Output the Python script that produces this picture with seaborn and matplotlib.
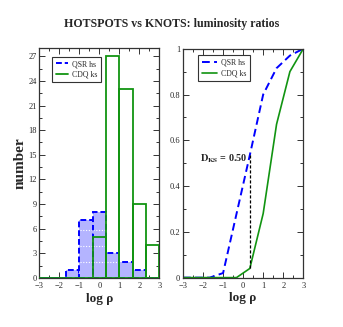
import numpy as np
import pandas as pd
import matplotlib
matplotlib.use("Agg")
import matplotlib.pyplot as plt
from matplotlib.lines import Line2D
from matplotlib.ticker import MultipleLocator, FuncFormatter
import seaborn as sns

# ---------------- data ----------------
bin_edges = [-3.0, -2.333, -1.667, -1.0, -0.333, 0.333, 1.0, 1.667, 2.333, 3.0]
qsr_counts = [0, 0, 1, 7, 8, 3, 2, 1, 0]
cdq_counts = [0, 0, 0, 0, 5, 27, 23, 9, 4]

qsr_cdf_x = [-3.0, -1.667, -1.0, 0.333, 1.0, 1.667, 2.333, 3.0]
qsr_cdf_y = [0.0, 0.0, 0.02, 0.535, 0.80, 0.915, 0.97, 1.0]
cdq_cdf_x = [-3.0, -0.333, 0.333, 1.0, 1.667, 2.333, 3.0]
cdq_cdf_y = [0.0, 0.0, 0.04, 0.28, 0.67, 0.90, 1.0]

ks_x = 0.333
ks_text = "0.50"
series_names = ["QSR hs", "CDQ ks"]
title = "HOTSPOTS vs KNOTS: luminosity ratios"

# ---------------- style ----------------
sns.set_style("ticks")
plt.rcParams["font.family"] = ["Liberation Serif", "DejaVu Serif"]
plt.rcParams["mathtext.fontset"] = "stix"

BLUE = "#0000ff"
BLUE_FILL = "#b4b4ff"
GREEN = "#119411"

fig = plt.figure(figsize=(3.43, 3.27), dpi=100)
axL = fig.add_axes([0.1146, 0.150, 0.350, 0.703])
axR = fig.add_axes([0.5335, 0.151, 0.3507, 0.700])

centers = [(bin_edges[i] + bin_edges[i + 1]) / 2 for i in range(len(bin_edges) - 1)]
df = pd.DataFrame({"c": centers, "qsr": qsr_counts, "cdq": cdq_counts})

# blue filled histogram with dashed edges
sns.histplot(data=df, x="c", weights="qsr", bins=bin_edges, ax=axL,
             color=BLUE_FILL, alpha=1.0, edgecolor=BLUE, linewidth=1.4,
             linestyle=(0, (3, 1.5)), zorder=2)
# white dotted hatch-like lines inside blue bars
for i, h in enumerate(qsr_counts):
    for lev in (1.9, 3.9, 5.9):
        if lev < h - 0.3:
            axL.hlines(lev, bin_edges[i] + 0.03, bin_edges[i + 1] - 0.03,
                       color="white", linestyle=(0, (1, 1.5)), linewidth=0.8, zorder=3)
# green outline histogram
sns.histplot(data=df, x="c", weights="cdq", bins=bin_edges, ax=axL,
             fill=False, color=GREEN, edgecolor=GREEN, linewidth=1.3, zorder=4)

axL.set_xlim(-3, 3)
axL.set_ylim(0, 28)
axL.xaxis.set_major_locator(MultipleLocator(1))
axL.xaxis.set_minor_locator(MultipleLocator(0.5))
axL.yaxis.set_major_locator(MultipleLocator(3))
axL.yaxis.set_minor_locator(MultipleLocator(1.5))
axL.set_ylabel("number", fontsize=11, fontweight="bold", labelpad=1)
axL.set_xlabel("log ρ", fontsize=9.5, fontweight="bold", labelpad=2)

leg_kw = dict(loc="upper left", borderaxespad=0, fontsize=5.6, frameon=True,
              fancybox=False, framealpha=1, edgecolor="#333333",
              handletextpad=0.5, borderpad=0.45, labelspacing=0.35)

handles = [Line2D([], [], color=BLUE, linestyle=(0, (3, 1.5)), linewidth=1.4),
           Line2D([], [], color=GREEN, linewidth=1.3)]
legL = axL.legend(handles, series_names, bbox_to_anchor=(0.106, 0.963),
                  handlelength=1.6, **leg_kw)
legL.get_frame().set_linewidth(0.8)

# right panel: cumulative distributions
sns.lineplot(x=qsr_cdf_x, y=qsr_cdf_y, ax=axR, color=BLUE, linewidth=1.4,
             linestyle=(0, (4, 2.2)), label=series_names[0])
sns.lineplot(x=cdq_cdf_x, y=cdq_cdf_y, ax=axR, color=GREEN, linewidth=1.2,
             label=series_names[1])
y_top = float(np.interp(ks_x, qsr_cdf_x, qsr_cdf_y))
y_bot = float(np.interp(ks_x, cdq_cdf_x, cdq_cdf_y))
axR.vlines(ks_x, y_bot, y_top, color="black", linestyle=(0, (2.5, 1.5)), linewidth=0.9)
axR.text(-2.15, 0.52, r"$\mathbf{D_{KS}}$" + " = " + ks_text, fontsize=7.3,
         fontweight="bold", va="center", ha="left")

axR.set_xlim(-3, 3)
axR.set_ylim(0, 1)
axR.xaxis.set_major_locator(MultipleLocator(1))
axR.xaxis.set_minor_locator(MultipleLocator(0.5))
axR.yaxis.set_major_locator(MultipleLocator(0.2))
axR.yaxis.set_minor_locator(MultipleLocator(0.1))
axR.yaxis.set_major_formatter(FuncFormatter(lambda v, p: f"{v:g}"))
axR.set_xlabel("log ρ", fontsize=9.5, fontweight="bold", labelpad=2)
axR.set_ylabel("")
legR = axR.legend(bbox_to_anchor=(0.125, 0.971), handlelength=2.0, **leg_kw)
legR.get_frame().set_linewidth(0.8)

for ax in (axL, axR):
    ax.tick_params(which="both", direction="in", top=True, right=True,
                   labelsize=6, pad=2, color="#333333", width=0.7)
    ax.tick_params(axis="x", which="major", pad=2.8)
    ax.tick_params(which="major", length=4)
    ax.tick_params(which="minor", length=2.5)
    for s in ax.spines.values():
        s.set_visible(True)
        s.set_color("#333333")
        s.set_linewidth(0.9)

fig.text(0.499, 0.926, title, ha="center", va="center", fontsize=8.6, fontweight="bold")

fig.savefig("out.png", dpi=100)
